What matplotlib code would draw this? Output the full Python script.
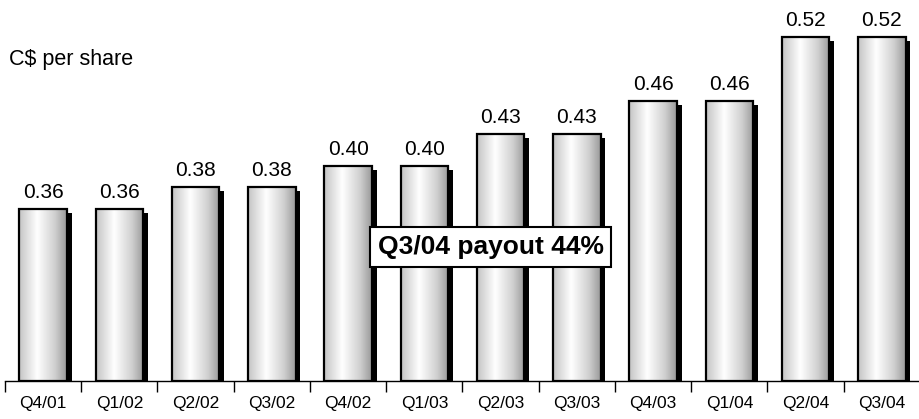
import matplotlib.pyplot as plt
import numpy as np
from matplotlib.colors import LinearSegmentedColormap
from matplotlib.patches import Rectangle

plt.rcParams['font.family'] = ['Liberation Sans', 'DejaVu Sans']

quarters = ['Q4/01', 'Q1/02', 'Q2/02', 'Q3/02', 'Q4/02', 'Q1/03',
            'Q2/03', 'Q3/03', 'Q4/03', 'Q1/04', 'Q2/04', 'Q3/04']
dividends = [0.36, 0.36, 0.38, 0.38, 0.40, 0.40,
             0.43, 0.43, 0.46, 0.46, 0.52, 0.52]

base = 0.2
px = 1 / 1075          # data units per pixel on the y axis
top = base + 381 * px
bar_w = 0.62
step = 77.27           # pixels per category

fig = plt.figure(figsize=(9.2, 4.19), dpi=100)
ax = fig.add_axes([5 / 920, 38 / 419, 915 / 920, 381 / 419])

# cylinder-like shading across each bar
shade = LinearSegmentedColormap.from_list(
    'cyl', [(0.0, '#c4c4c4'), (0.38, '#ffffff'), (0.75, '#d0d0d0'), (1.0, '#9a9a9a')])
grad = np.linspace(0, 1, 200).reshape(1, -1)

for i, v in enumerate(dividends):
    x0 = i - bar_w / 2
    # drop shadow
    ax.add_patch(Rectangle((x0 + 5 / step, base), bar_w, v - base - 4 * px,
                           facecolor='black', edgecolor='none', zorder=1))
    ax.imshow(grad, cmap=shade, aspect='auto', extent=(x0, x0 + bar_w, base, v),
              interpolation='bicubic', zorder=2)
    ax.add_patch(Rectangle((x0, base), bar_w, v - base, facecolor='none',
                           edgecolor='black', linewidth=1.6, zorder=3))
    ax.text(i, v + 11 * px, f'{v:.2f}', ha='center', va='baseline', fontsize=15)

ax.set_xlim(-0.5, -0.5 + 915 / step)
ax.set_ylim(base, top)

for side in ['top', 'right', 'left']:
    ax.spines[side].set_visible(False)
ax.spines['bottom'].set_linewidth(1.0)
ax.set_yticks([])
ax.set_xticks(range(len(quarters)))
ax.set_xticklabels(quarters, fontsize=12.5)
ax.tick_params(axis='x', which='major', length=0, pad=11)
ax.set_xticks(np.arange(-0.5, len(quarters), 1.0), minor=True)
ax.tick_params(axis='x', which='minor', length=8, width=1.0, direction='out')

fig.text(9 / 920, 1 - 59 / 419, 'C$ per share', fontsize=15.5, va='center')

ax.text((497 - 5) / step - 0.5, base + (381 - 247) * px, 'Q3/04 payout 44%',
        fontsize=19, fontweight='bold', ha='center', va='center', zorder=5,
        bbox=dict(boxstyle='square,pad=0.3', facecolor='white',
                  edgecolor='black', linewidth=1.5))

fig.savefig('out.png', dpi=100)
